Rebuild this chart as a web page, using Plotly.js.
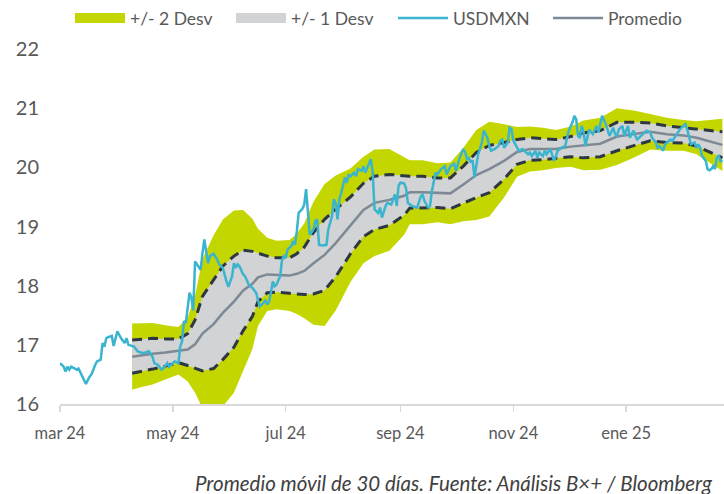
<!DOCTYPE html>
<html><head><meta charset="utf-8">
<script src="https://cdn.plot.ly/plotly-3.0.1.min.js"></script>
<style>html,body{margin:0;padding:0;background:#fff}#chart{width:724px;height:494px}</style>
</head><body><div id="chart"></div>
<script>
const usdDates = [
'2024-03-01','2024-03-03','2024-03-04','2024-03-05','2024-03-06','2024-03-07','2024-03-09','2024-03-10','2024-03-11','2024-03-13',
'2024-03-15','2024-03-17','2024-03-18','2024-03-20','2024-03-21','2024-03-23','2024-03-24','2024-03-25','2024-03-26','2024-03-27',
'2024-03-29','2024-03-30','2024-04-01','2024-04-03','2024-04-05','2024-04-06','2024-04-07','2024-04-10','2024-04-12','2024-04-15',
'2024-04-18','2024-04-20','2024-04-21','2024-04-23','2024-04-25','2024-04-26','2024-04-28','2024-04-29','2024-05-02','2024-05-04',
'2024-05-05','2024-05-06','2024-05-07','2024-05-08','2024-05-09','2024-05-10','2024-05-11','2024-05-12','2024-05-13','2024-05-15',
'2024-05-16','2024-05-17','2024-05-18','2024-05-20','2024-05-21','2024-05-23','2024-05-25','2024-05-26','2024-05-28','2024-05-30',
'2024-05-31','2024-06-02','2024-06-03','2024-06-04','2024-06-05','2024-06-06','2024-06-08','2024-06-09','2024-06-10','2024-06-11',
'2024-06-13','2024-06-15','2024-06-16','2024-06-17','2024-06-19','2024-06-20','2024-06-21','2024-06-22','2024-06-23','2024-06-24',
'2024-06-25','2024-06-26','2024-06-28','2024-06-29','2024-06-30','2024-07-01','2024-07-02','2024-07-04','2024-07-05','2024-07-06',
'2024-07-07','2024-07-08','2024-07-10','2024-07-11','2024-07-12','2024-07-13','2024-07-14','2024-07-16','2024-07-17','2024-07-18',
'2024-07-19','2024-07-21','2024-07-23','2024-07-24','2024-07-26','2024-07-27','2024-07-28','2024-07-29','2024-07-30','2024-07-31',
'2024-08-01','2024-08-02','2024-08-03','2024-08-04','2024-08-05','2024-08-07','2024-08-08','2024-08-09','2024-08-11','2024-08-12',
'2024-08-13','2024-08-15','2024-08-16','2024-08-17','2024-08-18','2024-08-20','2024-08-21','2024-08-22','2024-08-24','2024-08-25',
'2024-08-27','2024-08-29','2024-08-30','2024-08-31','2024-09-01','2024-09-03','2024-09-04','2024-09-05','2024-09-07','2024-09-10',
'2024-09-12','2024-09-13','2024-09-14','2024-09-16','2024-09-17','2024-09-18','2024-09-20','2024-09-21','2024-09-23','2024-09-25',
'2024-09-26','2024-09-28','2024-09-30','2024-10-01','2024-10-03','2024-10-05','2024-10-06','2024-10-07','2024-10-08','2024-10-09',
'2024-10-10','2024-10-11','2024-10-13','2024-10-14','2024-10-15','2024-10-16','2024-10-18','2024-10-19','2024-10-20','2024-10-22',
'2024-10-24','2024-10-25','2024-10-26','2024-10-27','2024-10-29','2024-10-30','2024-10-31','2024-11-01','2024-11-02','2024-11-04',
'2024-11-06','2024-11-07','2024-11-09','2024-11-10','2024-11-11','2024-11-13','2024-11-14','2024-11-15','2024-11-17','2024-11-18',
'2024-11-19','2024-11-21','2024-11-23','2024-11-24','2024-11-25','2024-11-27','2024-11-29','2024-12-01','2024-12-03','2024-12-04',
'2024-12-05','2024-12-06','2024-12-07','2024-12-08','2024-12-09','2024-12-10','2024-12-11','2024-12-12','2024-12-14','2024-12-16',
'2024-12-17','2024-12-18','2024-12-19','2024-12-21','2024-12-22','2024-12-23','2024-12-25','2024-12-26','2024-12-27','2024-12-28',
'2024-12-30','2024-12-31','2025-01-01','2025-01-02','2025-01-03','2025-01-05','2025-01-06','2025-01-07','2025-01-09','2025-01-10',
'2025-01-11','2025-01-12','2025-01-14','2025-01-15','2025-01-17','2025-01-18','2025-01-19','2025-01-21','2025-01-22','2025-01-23',
'2025-01-25','2025-01-26','2025-01-27','2025-01-29','2025-01-30','2025-02-01','2025-02-02','2025-02-03','2025-02-04','2025-02-05',
'2025-02-07','2025-02-08','2025-02-09','2025-02-10','2025-02-11','2025-02-13','2025-02-14','2025-02-15','2025-02-16','2025-02-17',
'2025-02-18','2025-02-19','2025-02-20','2025-02-21','2025-02-22'
];
const usdValues = [
16.69,16.63,16.55,16.63,16.58,16.63,16.60,16.58,16.60,16.46,
16.34,16.46,16.50,16.66,16.72,16.75,17.03,16.97,17.11,17.13,
17.15,16.98,17.23,17.11,17.03,17.11,17.00,16.97,16.89,16.86,
16.89,16.80,16.69,16.66,16.58,16.61,16.69,16.63,16.72,16.69,
16.97,17.06,17.40,17.37,17.60,17.88,17.80,17.58,18.41,18.33,
18.27,18.55,18.78,18.38,18.50,18.54,18.44,18.36,18.30,18.07,
17.98,18.16,18.38,18.30,18.36,18.33,18.19,18.16,18.10,18.02,
17.96,17.88,17.76,17.65,17.71,17.76,17.68,17.73,17.88,18.07,
17.99,18.02,18.16,18.44,18.50,18.47,18.61,18.67,18.75,18.69,
18.92,19.23,19.30,19.37,19.63,19.29,18.86,18.95,19.09,19.12,
18.69,18.68,18.69,18.95,19.17,19.46,19.40,19.12,19.46,19.57,
19.71,19.83,19.74,19.88,19.85,19.91,19.85,19.97,19.94,20.02,
19.91,20.08,20.14,19.91,19.29,19.23,19.32,19.15,19.35,19.40,
19.37,19.54,19.35,19.69,19.74,19.73,19.65,19.40,19.35,19.32,
19.51,19.54,19.43,19.32,19.35,19.60,19.91,19.88,19.97,20.02,
19.88,20.02,20.06,19.94,20.16,20.31,20.25,20.14,20.16,20.08,
20.12,19.83,20.22,20.31,20.42,20.62,20.50,20.36,20.28,20.31,
20.36,20.45,20.47,20.33,20.42,20.67,20.65,20.45,20.39,20.28,
20.31,20.28,20.22,20.25,20.19,20.28,20.16,20.25,20.19,20.28,
20.22,20.31,20.11,20.19,20.28,20.33,20.36,20.62,20.76,20.87,
20.81,20.53,20.50,20.70,20.59,20.36,20.50,20.64,20.56,20.70,
20.59,20.76,20.87,20.73,20.62,20.53,20.67,20.56,20.53,20.64,
20.70,20.53,20.62,20.70,20.50,20.62,20.53,20.47,20.53,20.56,
20.59,20.62,20.59,20.50,20.42,20.33,20.36,20.28,20.39,20.42,
20.47,20.45,20.50,20.59,20.64,20.70,20.73,20.64,20.53,20.39,
20.42,20.33,20.39,20.33,20.19,20.11,19.97,19.95,19.97,20.02,
19.97,20.16,20.20,20.10,20.12
];
const bandDates = [
'2024-04-09','2024-04-13','2024-04-20','2024-04-27','2024-05-04','2024-05-09','2024-05-13','2024-05-17','2024-05-23','2024-05-28',
'2024-06-03','2024-06-08','2024-06-13','2024-06-16','2024-06-21','2024-06-26','2024-07-03','2024-07-07','2024-07-11','2024-07-16',
'2024-07-22','2024-07-28','2024-08-05','2024-08-12','2024-08-18','2024-08-26','2024-09-03','2024-09-06','2024-09-13','2024-09-21',
'2024-09-28','2024-10-05','2024-10-12','2024-10-19','2024-10-27','2024-11-03','2024-11-10','2024-11-17','2024-11-24','2024-12-02',
'2024-12-09','2024-12-18','2024-12-27','2025-01-05','2025-01-14','2025-01-23','2025-02-01','2025-02-08','2025-02-15','2025-02-22'
];
const bandMean = [
16.80,16.82,16.85,16.87,16.90,16.92,17.01,17.19,17.35,17.54,
17.73,17.92,18.03,18.14,18.19,18.18,18.17,18.20,18.25,18.38,
18.52,18.72,19.02,19.28,19.40,19.45,19.52,19.58,19.58,19.57,
19.56,19.71,19.87,19.97,20.11,20.26,20.31,20.31,20.31,20.35,
20.37,20.40,20.52,20.56,20.60,20.56,20.54,20.50,20.44,20.38
];
const bandSd = [
0.28,0.27,0.26,0.23,0.20,0.27,0.41,0.63,0.75,0.79,
0.77,0.68,0.55,0.41,0.31,0.29,0.30,0.34,0.40,0.52,
0.60,0.57,0.48,0.45,0.45,0.43,0.33,0.27,0.27,0.25,
0.26,0.31,0.38,0.40,0.31,0.21,0.19,0.18,0.16,0.17,
0.21,0.22,0.24,0.20,0.15,0.14,0.13,0.14,0.18,0.22
];
const tickDates = ['2024-03-01','2024-05-01','2024-07-01','2024-09-01','2024-11-01','2025-01-01'];
const tickLabels = ['mar 24','may 24','jul 24','sep 24','nov 24','ene 25'];
const seriesNames = ['+/- 2 Desv','+/- 1 Desv','USDMXN','Promedio'];
const captionText = 'Promedio móvil de 30 días. Fuente: Análisis B×+ / Bloomberg';

const up2 = bandMean.map((m, i) => m + 2 * bandSd[i]);
const lo2 = bandMean.map((m, i) => m - 2 * bandSd[i]);
const up1 = bandMean.map((m, i) => m + bandSd[i]);
const lo1 = bandMean.map((m, i) => m - bandSd[i]);

const GREEN = '#c4d600', GREY = '#d1d3d4', CYAN = '#3ab4cf', MEAN = '#7d8994', DASH = '#2e3842';
const FONT = 'Lato, "Open Sans", sans-serif';

const traces = [
  {x: bandDates, y: lo2, type: 'scatter', mode: 'lines', line: {width: 0, color: GREEN}, showlegend: false, hoverinfo: 'skip'},
  {x: bandDates, y: up2, type: 'scatter', mode: 'lines', line: {width: 0, color: GREEN}, fill: 'tonexty', fillcolor: GREEN, showlegend: false, legendgroup: 'g2', hoverinfo: 'skip'},
  {x: bandDates, y: lo1, type: 'scatter', mode: 'lines', line: {width: 0, color: GREY}, showlegend: false, hoverinfo: 'skip'},
  {x: bandDates, y: up1, type: 'scatter', mode: 'lines', line: {width: 0, color: GREY}, fill: 'tonexty', fillcolor: GREY, showlegend: false, legendgroup: 'g1', hoverinfo: 'skip'},
  {x: bandDates, y: up1, type: 'scatter', mode: 'lines', line: {width: 3, color: DASH, dash: '10px,6px'}, showlegend: false, legendgroup: 'g1'},
  {x: bandDates, y: lo1, type: 'scatter', mode: 'lines', line: {width: 3, color: DASH, dash: '10px,6px'}, showlegend: false, legendgroup: 'g1'},
  {x: bandDates, y: bandMean, type: 'scatter', mode: 'lines', name: seriesNames[3], line: {width: 2.5, color: MEAN}, legendrank: 4},
  {x: usdDates, y: usdValues, type: 'scatter', mode: 'lines', name: seriesNames[2], line: {width: 2.5, color: CYAN}, legendrank: 3, legendwidth: 90},
  {x: [null], y: [null], type: 'scatter', mode: 'lines', name: seriesNames[0], line: {width: 11, color: GREEN}, legendgroup: 'g2', legendrank: 1, legendwidth: 96},
  {x: [null], y: [null], type: 'scatter', mode: 'lines', name: seriesNames[1], line: {width: 11, color: GREY}, legendgroup: 'g1', legendrank: 2, legendwidth: 97}
];

const layout = {
  width: 724, height: 494,
  margin: {l: 60, r: 0, t: 49, b: 90},
  paper_bgcolor: '#ffffff', plot_bgcolor: '#ffffff',
  font: {family: FONT, color: '#595959'},
  showlegend: true,
  legend: {orientation: 'h', xref: 'container', yref: 'container', x: 70 / 724, xanchor: 'left', y: 1, yanchor: 'top',
           itemwidth: 50, font: {family: FONT, size: 17.5, color: '#595959'}, bgcolor: 'rgba(0,0,0,0)', traceorder: 'normal'},
  xaxis: {type: 'date', range: ['2024-03-01', '2025-02-22 21:00'], tickvals: tickDates, ticktext: tickLabels,
          showgrid: false, zeroline: false, showline: true, linecolor: '#d9d9d9', linewidth: 1.5,
          ticks: 'outside', ticklen: 6, tickcolor: '#d9d9d9', tickwidth: 1.5, ticklabelstandoff: 8,
          tickfont: {family: FONT, size: 16.5, color: '#595959'}, fixedrange: true},
  yaxis: {range: [16, 22], dtick: 1, tick0: 16, showgrid: false, zeroline: false, showline: false, ticks: '',
          ticklabelstandoff: 20, tickfont: {family: FONT, size: 20, color: '#595959'}, fixedrange: true},
  annotations: [{text: captionText, xref: 'paper', yref: 'paper', x: (715 - 60) / 664, y: (404 - 483) / 355,
                 xanchor: 'right', yanchor: 'middle', showarrow: false,
                 font: {family: FONT, size: 20.5, color: '#404040', style: 'italic'}}]
};

Plotly.newPlot('chart', traces, layout, {displayModeBar: false, staticPlot: true});
</script>
</body></html>
